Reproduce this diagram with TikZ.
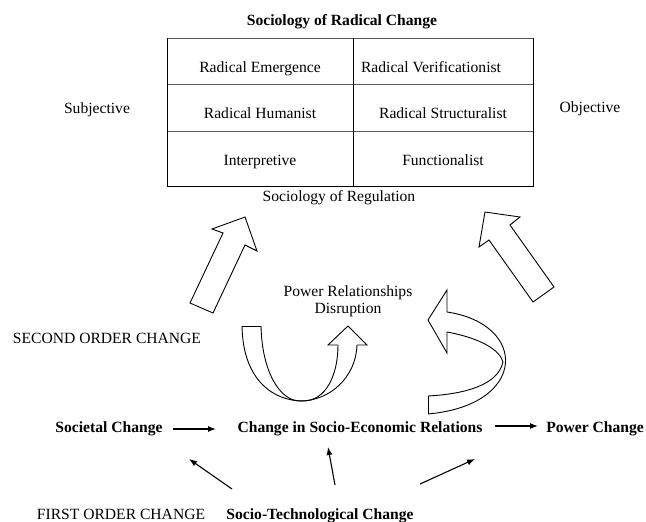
\documentclass[tikz,border=0pt]{standalone}
\usepackage{fontspec}
\setmainfont{Liberation Serif}
\usetikzlibrary{arrows.meta}
\begin{document}
\begin{tikzpicture}[x=1pt,y=-1pt,
  txt/.style={anchor=base,inner sep=0pt,font=\fontsize{15.6}{18}\selectfont},
  btxt/.style={txt,font=\fontsize{15.6}{18}\selectfont\bfseries},
  blockarrow/.style={draw=black,line width=0.9pt,fill=white,line join=miter},
  ribbon/.style={draw=black,line width=0.9pt},
  smallarrow/.style={line width=1.1pt,-{Latex[length=8pt,width=6pt]}},
  gridh/.style={draw=black!65,line width=0.9pt},
  gridv/.style={draw=black,line width=0.9pt}]
\useasboundingbox (0,0) rectangle (646,522);
% grid
\draw[gridh] (167,38) -- (533,38);
\draw[gridh] (167,84) -- (533,84);
\draw[gridh] (167,131) -- (533,131);
\draw[gridv] (167,38) -- (167,186) -- (533,186) -- (533,38);
\draw[gridv] (353,38) -- (353,186);
% texts
\node[btxt] (title) at (342,25) {Sociology of Radical Change};
\node[txt] (re) at (260,72) {Radical Emergence};
\node[txt] (rv) at (431,72) {Radical Verificationist};
\node[txt] (rh) at (260,118) {Radical Humanist};
\node[txt] (rs) at (443,118) {Radical Structuralist};
\node[txt] (ip) at (260,165) {Interpretive};
\node[txt] (fn) at (443,165) {Functionalist};
\node[txt] (reg) at (339,201) {Sociology of Regulation};
\node[txt] (subj) at (97,113) {Subjective};
\node[txt] (obj) at (590,112) {Objective};
\node[txt] (prd1) at (348,296) {Power Relationships};
\node[txt] (prd2) at (348,313) {Disruption};
\node[txt] (second) at (107,343) {SECOND ORDER CHANGE};
\node[btxt] (soc) at (109,432) {Societal Change};
\node[btxt] (sec) at (360,432) {Change in Socio-Economic Relations};
\node[btxt] (pow) at (595,432) {Power Change};
\node[txt] (first) at (121,519) {FIRST ORDER CHANGE};
\node[btxt] (stc) at (320,519) {Socio-Technological Change};
% straight block arrows
\draw[blockarrow] (190,303) -- (223,233) -- (212,229) -- (245,217) -- (257,251) -- (245,245) -- (213,313) -- cycle;
\draw[blockarrow] (554,287) -- (510,225) -- (520,217) -- (485,212) -- (479,247) -- (489,240) -- (533,302) -- cycle;
% U ribbon arrow
\draw[ribbon] (242,326) -- (261,326);
\draw[ribbon] (242,326) .. controls (243,382) and (275,401) .. (303,401) .. controls (326,401) and (338,375) .. (338,345);
\draw[ribbon] (261,326) .. controls (262,372) and (280,401) .. (300,401) .. controls (330,401) and (356,377) .. (357,345);
\draw[ribbon,line join=miter] (338,345) -- (328,345) -- (348,326) -- (367,345) -- (357,345);
% folded ribbon arrow
\draw[ribbon,line join=miter] (447,312) -- (447,290) -- (428,320) -- (447,353) -- (447,332);
\draw[ribbon] (447,312) .. controls (528,324) and (528,405) .. (428,414);
\draw[ribbon] (447,332) .. controls (480,338) and (500,350) .. (503,362);
\draw[ribbon] (503,362) .. controls (498,385) and (465,394) .. (428,396);
\draw[ribbon] (428,396) -- (428,414);
% small arrows
\coordinate (a1s) at (173,429); \coordinate (a1e) at (216,429);
\coordinate (a2s) at (495,426); \coordinate (a2e) at (538,426);
\coordinate (a3s) at (232,489); \coordinate (a3e) at (189,459);
\coordinate (a4s) at (335,485); \coordinate (a4e) at (328,447);
\coordinate (a5s) at (420,484); \coordinate (a5e) at (475,459);
\draw[smallarrow] (a1s) -- (a1e);
\draw[smallarrow] (a2s) -- (a2e);
\draw[smallarrow] (a3s) -- (a3e);
\draw[smallarrow] (a4s) -- (a4e);
\draw[smallarrow] (a5s) -- (a5e);
\end{tikzpicture}
\end{document}
